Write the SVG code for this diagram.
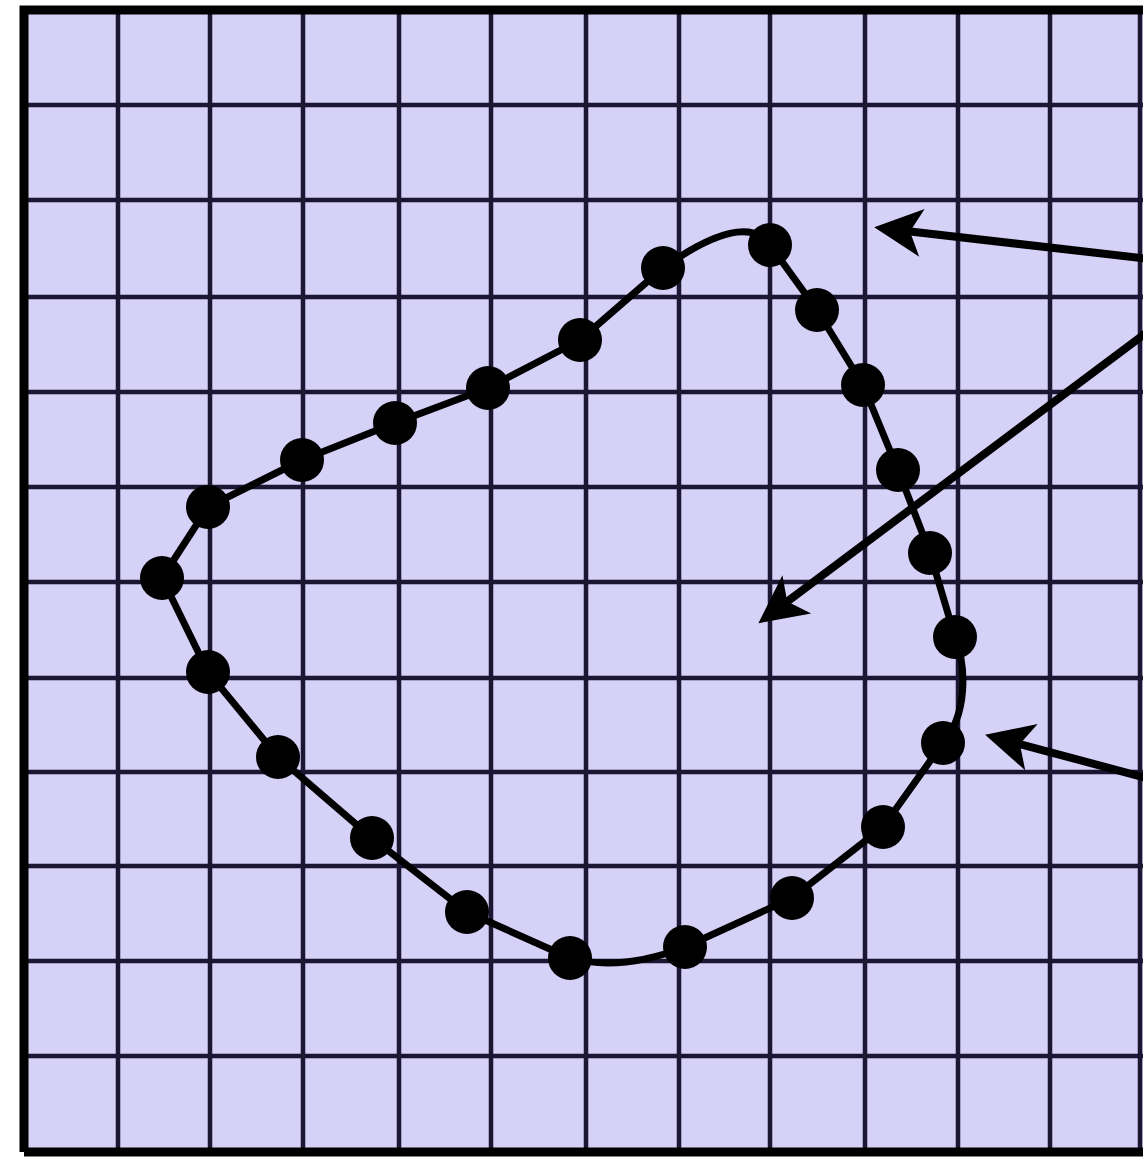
<svg xmlns="http://www.w3.org/2000/svg" width="1143" height="1158" viewBox="0 0 1143 1158">
<style>
.g{stroke:#1b1733;stroke-width:4.5;fill:none}
.curve{stroke:#000;stroke-width:7;fill:none;stroke-linejoin:round}
.dot{fill:#000}
.arr{stroke:#000;stroke-width:8;fill:none}
</style>
<defs>
<marker id="ah" markerUnits="userSpaceOnUse" markerWidth="80" markerHeight="80" viewBox="-40 -40 80 80" refX="0" refY="0" orient="auto">
<path d="M32,0 L-16,-24 L-4,0 L-16,24 Z" fill="#000"/>
</marker>
</defs>
<rect x="0" y="0" width="1143" height="1158" fill="#fff"/>
<g id="grid">
<rect x="24" y="10" width="1130" height="1142" fill="#d5d1f7"/>
<path class="g" d="M118,10V1152M210,10V1152M303,10V1152M399,10V1152M491,10V1152M586,10V1152M679,10V1152M770,10V1152M865,10V1152M958,10V1152M1050,10V1152M1140,10V1152"/>
<path class="g" d="M24,105H1143M24,200H1143M24,297H1143M24,392H1143M24,487H1143M24,582H1143M24,678H1143M24,772H1143M24,866H1143M24,961H1143M24,1056H1143"/>
<path d="M24,1152V10H1143M24,1152H1143" stroke="#000" stroke-width="9" fill="none"/>
</g>
<g id="contour">
<path class="curve" d="M770,245 L817,310 L863,385 L898,470 L930,553 L955,637 C967,668 967,715 943,743 L883,827 L792,898 L685,947 Q620,972 570,958 L467,912 L372,838 L278,757 L208,672 L162,578 L208,507 L302,460 L395,423 L488,388 L580,340 L663,268 Q745,210 770,245 Z"/>
<g class="dot">
<circle cx="770" cy="245" r="22"/><circle cx="817" cy="310" r="22"/><circle cx="863" cy="385" r="22"/><circle cx="898" cy="470" r="22"/><circle cx="930" cy="553" r="22"/><circle cx="955" cy="637" r="22"/><circle cx="943" cy="743" r="22"/><circle cx="883" cy="827" r="22"/><circle cx="792" cy="898" r="22"/><circle cx="685" cy="947" r="22"/><circle cx="570" cy="958" r="22"/><circle cx="467" cy="912" r="22"/><circle cx="372" cy="838" r="22"/><circle cx="278" cy="757" r="22"/><circle cx="208" cy="672" r="22"/><circle cx="162" cy="578" r="22"/><circle cx="208" cy="507" r="22"/><circle cx="302" cy="460" r="22"/><circle cx="395" cy="423" r="22"/><circle cx="488" cy="388" r="22"/><circle cx="580" cy="340" r="22"/><circle cx="663" cy="268" r="22"/>
</g>
</g>
<g id="connectors">
<line class="arr" x1="1150" y1="259" x2="906" y2="231" marker-end="url(#ah)"/>
<line class="arr" x1="1150" y1="330" x2="784" y2="604" marker-end="url(#ah)"/>
<line class="arr" x1="1150" y1="779" x2="1016" y2="743" marker-end="url(#ah)"/>
</g>
</svg>
